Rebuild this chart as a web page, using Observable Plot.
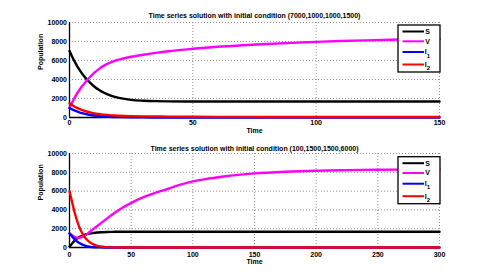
<!DOCTYPE html>
<html>
<head>
<meta charset="utf-8">
<script src="https://cdn.jsdelivr.net/npm/d3@7"></script>
<script src="https://cdn.jsdelivr.net/npm/@observablehq/plot@0.6"></script>
<style>
  html, body { margin: 0; padding: 0; background: #fff; }
  #root { width: 490px; }
  #root svg { display: block; }
</style>
</head>
<body>
<div id="root"></div>
<script>
// ---- series metadata ----
const seriesNames = ["S", "V", "I1", "I2"];
const seriesColors = ["#000000", "#ff00ff", "#0000ff", "#ff0000"];
const yTicks = [0, 2000, 4000, 6000, 8000, 10000];

// ---- top panel: initial condition (7000,1000,1000,1500) ----
const title1 = "Time series solution with initial condition (7000,1000,1000,1500)";
const xTicks1 = [0, 50, 100, 150];
const t1  = [0, 1, 2, 3, 4, 5, 6, 7, 8, 10, 12, 14, 16, 18, 20, 25, 30, 35, 40, 50, 60, 70, 80, 90, 100, 110, 120, 130, 140, 150];
const S1  = [7000, 6450, 5930, 5460, 5040, 4660, 4320, 4010, 3740, 3260, 2900, 2610, 2380, 2200, 2070, 1860, 1770, 1720, 1700, 1690, 1685, 1682, 1680, 1680, 1680, 1680, 1680, 1680, 1680, 1680];
const V1  = [1000, 1550, 2050, 2500, 2900, 3260, 3590, 3900, 4180, 4700, 5120, 5460, 5720, 5930, 6090, 6390, 6610, 6800, 6970, 7230, 7440, 7600, 7740, 7860, 7960, 8050, 8120, 8180, 8230, 8270];
const I11 = [1000, 860, 740, 640, 550, 470, 400, 340, 290, 210, 150, 105, 75, 55, 40, 18, 8, 4, 2, 0, 0, 0, 0, 0, 0, 0, 0, 0, 0, 0];
const I21 = [1500, 1320, 1160, 1020, 900, 800, 710, 630, 560, 440, 360, 300, 250, 215, 190, 145, 120, 105, 95, 80, 70, 65, 60, 57, 55, 53, 52, 51, 50, 50];

// ---- bottom panel: initial condition (100,1500,1500,6000) ----
const title2 = "Time series solution with initial condition (100,1500,1500,6000)";
const xTicks2 = [0, 50, 100, 150, 200, 250, 300];
const t2  = [0, 2, 4, 6, 8, 10, 12, 14, 16, 18, 20, 22, 25, 30, 35, 40, 50, 60, 70, 80, 90, 100, 110, 125, 150, 175, 200, 225, 250, 275, 300];
const S2  = [100, 400, 700, 950, 1120, 1250, 1350, 1420, 1480, 1520, 1560, 1590, 1620, 1650, 1665, 1675, 1680, 1680, 1680, 1680, 1680, 1680, 1680, 1680, 1680, 1680, 1680, 1680, 1680, 1680, 1680];
const V2  = [1500, 1300, 1130, 1050, 1040, 1100, 1230, 1400, 1620, 1830, 2040, 2240, 2540, 3040, 3530, 3980, 4750, 5370, 5830, 6250, 6680, 7030, 7280, 7560, 7880, 8060, 8170, 8230, 8270, 8290, 8310];
const I12 = [1500, 1200, 900, 650, 470, 340, 230, 140, 80, 45, 25, 15, 8, 2, 0, 0, 0, 0, 0, 0, 0, 0, 0, 0, 0, 0, 0, 0, 0, 0, 0];
const I22 = [6000, 4900, 3800, 2900, 2150, 1600, 1170, 850, 600, 430, 300, 200, 110, 40, 15, 5, 0, 0, 0, 0, 0, 0, 0, 0, 0, 0, 0, 0, 0, 0, 0];

const FONT = "Liberation Sans, Arial, sans-serif";

function panel({title, t, series, xTicks, xMax, marginTop, marginBottom, titleY, tickDy, xlabelDy, legendTop}) {
  const height = 138;
  const lines = series.map((vals, i) =>
    Plot.line(vals, {x: t, y: vals, stroke: seriesColors[i], strokeWidth: 2.4, curve: "monotone-x"})
  );
  const svg = Plot.plot({
    width: 490,
    height,
    marginLeft: 69,
    marginRight: 51,
    marginTop,
    marginBottom,
    style: {fontFamily: FONT, fontSize: "7px", fontWeight: "bold", color: "#000", background: "#fff"},
    x: {domain: [0, xMax], ticks: xTicks},
    y: {domain: [0, 10000], ticks: yTicks},
    marks: [
      Plot.gridX(xTicks, {stroke: "#777", strokeOpacity: 1, strokeDasharray: "1,2", strokeWidth: 0.8}),
      Plot.gridY(yTicks, {stroke: "#777", strokeOpacity: 1, strokeDasharray: "1,2", strokeWidth: 0.8}),
      Plot.axisX(xTicks, {tickSize: 0, tickPadding: tickDy, tickFormat: d => String(d), fontWeight: "bold", label: null}),
      Plot.axisY(yTicks, {tickSize: 0, tickPadding: 2.5, tickFormat: d => String(d), fontWeight: "bold", label: null}),
      Plot.ruleX([0], {stroke: "#000", strokeWidth: 1.3}),
      Plot.ruleY([0], {stroke: "#000", strokeWidth: 1.3}),
      ...lines,
      Plot.text([title], {frameAnchor: "top", dy: titleY - marginTop, text: d => d, fontWeight: "bold", fontSize: 7}),
      Plot.text(["Time"], {frameAnchor: "bottom", dy: xlabelDy, text: d => d, fontWeight: "bold", fontSize: 7}),
      Plot.text(["Population"], {frameAnchor: "left", dx: -29, rotate: -90, text: d => d, fontWeight: "bold", fontSize: 7})
    ]
  });

  // legend built from series metadata
  const g = d3.select(svg).append("g").attr("font-family", FONT).attr("font-size", 7).attr("font-weight", "bold");
  const bx = 398, bw = 42, bh = 47;
  g.append("rect").attr("x", bx).attr("y", legendTop).attr("width", bw).attr("height", bh)
    .attr("fill", "#fff").attr("stroke", "#000").attr("stroke-width", 1.3);
  const rows = [6.5, 16.3, 27, 39.5];
  seriesNames.forEach((name, i) => {
    const y = legendTop + rows[i];
    g.append("line").attr("x1", bx + 4.5).attr("x2", bx + 26).attr("y1", y).attr("y2", y)
      .attr("stroke", seriesColors[i]).attr("stroke-width", 2);
    const txt = g.append("text").attr("x", bx + 29.5).attr("y", y).attr("dy", "0.35em").attr("fill", "#000");
    txt.append("tspan").text(name[0]);
    if (name.length > 1) {
      txt.append("tspan").attr("dy", "0.55em").attr("font-size", 6).text(name.slice(1));
    }
  });
  return svg;
}

const root = document.getElementById("root");
root.appendChild(panel({
  title: title1, t: t1, series: [S1, V1, I11, I21], xTicks: xTicks1, xMax: 150,
  marginTop: 22, marginBottom: 21, titleY: 13, tickDy: 3, xlabelDy: 15, legendTop: 25
}));
root.appendChild(panel({
  title: title2, t: t2, series: [S2, V2, I12, I22], xTicks: xTicks2, xMax: 300,
  marginTop: 15, marginBottom: 29, titleY: 8, tickDy: 4.5, xlabelDy: 16.5, legendTop: 18.7
}));
</script>
</body>
</html>
